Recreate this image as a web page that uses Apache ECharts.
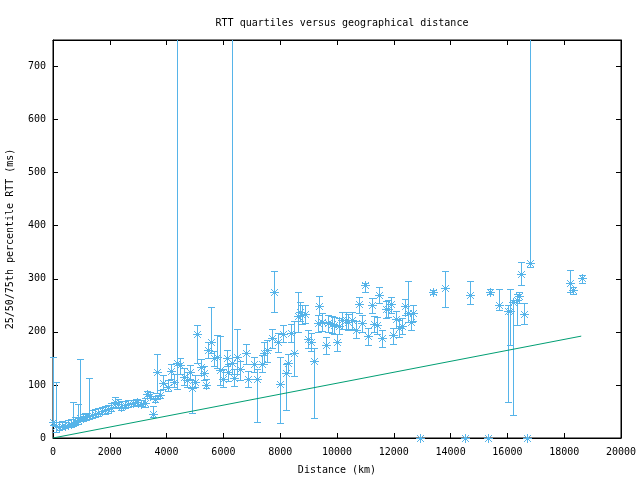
<!DOCTYPE html>
<html>
<head>
<meta charset="utf-8">
<script src="https://cdn.jsdelivr.net/npm/echarts@6/dist/echarts.min.js"></script>
<style>html,body{margin:0;padding:0;background:#fff}#c{width:640px;height:480px}</style>
</head>
<body>
<div id="c"></div>
<script>
const titleText = 'RTT quartiles versus geographical distance';
const xName = 'Distance (km)';
const yName = '25/50/75th percentile RTT (ms)';

const distance = [0,100,200,300,420,520,620,700,780,890,950,1050,1130,1280,1380,1480,1600,1720,1830,1950,2050,2183,2280,2400,2535,2650,2817,2950,3100,3240,3300,3400,3510,3590,3673,3768,3885,4060,4155,4272,4378,4472,4613,4707,4824,4883,5000,5081,5211,5328,5387,5469,5563,5680,5763,5880,5997,6115,6174,6292,6384,6490,6585,6785,6877,7090,7195,7348,7441,7535,7700,7782,7910,8005,8087,8193,8286,8380,8480,8615,8697,8756,8873,8967,9084,9201,9342,9377,9482,9602,9694,9813,9905,10011,10081,10187,10306,10399,10517,10658,10775,10891,10986,11103,11220,11314,11397,11479,11596,11714,11784,11901,11983,12077,12183,12278,12394,12489,12606,12687,12920,13392,13803,14500,14683,15300,15387,15704,16033,16092,16208,16326,16420,16479,16596,16700,16796,18204,18322,18616];
const p25 = [24,12,15,17,18,20,20,22,24,27,32,32,34,36,38,40,42,45,46,48,50,58,56,52,56,58,60,62,60,58,76,75,40,68,84,76,92,88,112,96,92,120,100,96,112,48,96,141,118,110,94,150,160,136,132,100,96,136,108,120,98,120,110,140,96,124,31,124,140,144,170,237,162,28,180,53,122,180,116,200,220,214,216,170,164,37,200,232,202,158,200,198,196,164,196,206,206,204,206,188,236,200,276,176,236,200,196,254,172,226,228,236,178,208,190,196,232,218,204,220,0,272,246,0,252,0,271,241,68,175,43,213,255,288,215,0,323,275,272,292];
const p50 = [30,22,20,22,22,24,26,28,30,33,38,38,40,42,44,46,48,50,53,54,56,68,64,58,62,64,66,68,64,66,83,80,46,73,125,81,103,97,126,106,141,138,115,109,125,95,106,196,134,122,100,166,180,150,152,128,112,150,124,141,114,152,130,160,111,139,111,139,161,165,188,275,180,101,196,122,141,197,161,230,238,232,233,187,181,145,217,249,219,175,216,215,213,180,211,222,222,219,222,204,252,217,288,192,251,215,213,269,188,243,244,252,194,225,207,211,249,235,219,236,0,275,282,0,269,0,275,251,239,239,257,260,268,309,234,0,329,293,279,301];
const p75 = [152,106,30,32,30,34,36,68,40,64,148,46,48,114,52,54,56,58,60,62,66,78,74,70,70,72,72,74,72,76,88,86,60,80,158,90,118,110,140,120,900,150,132,124,138,110,118,212,148,136,112,180,247,164,194,192,130,166,140,900,130,205,146,178,126,152,130,156,180,184,206,315,198,153,212,140,158,214,220,276,256,250,250,204,198,170,232,268,236,190,232,230,228,196,226,238,238,234,238,220,266,232,293,208,264,230,228,284,204,258,260,266,208,240,222,226,262,295,234,250,0,278,315,0,295,0,281,280,251,280,260,271,275,332,254,0,900,317,284,307];

const lineDistance = [0, 18600];
const lineRtt = [0, 192];

const xTicks = {min: 0, max: 20000, interval: 2000};
const yTicks = {min: 0, max: 750, interval: 100};

const BLUE = '#56b4e9';
const GREEN = '#009e73';
const FONT = 'DejaVu Sans Mono';

const errData = distance.map((d, i) => [d, p25[i], p50[i], p75[i]]);
const lineData = lineDistance.map((d, i) => [d, lineRtt[i]]);

const chart = echarts.init(document.getElementById('c'), null, {renderer: 'canvas'});

function px(x, y, w, h) {
  return {type: 'rect', shape: {x: x, y: y, width: w, height: h}, style: {fill: BLUE, stroke: null}};
}

function renderErr(params, api) {
  const x = api.value(0), lo = api.value(1), med = api.value(2), hi = api.value(3);
  const pLo = api.coord([x, lo]);
  const pHi = api.coord([x, hi]);
  const pMed = api.coord([x, med]);
  const top = Math.round(params.coordSys.y);
  const cx = Math.round(pLo[0]);
  const children = [];
  if (hi > lo) {
    const yLo = Math.round(pLo[1]);
    const yHiRaw = pHi[1];
    const yHi = Math.round(Math.max(yHiRaw, top));
    children.push(px(cx, yHi, 1, yLo - yHi + 1));
    children.push(px(cx - 3, yLo, 7, 1));
    if (yHiRaw >= top) children.push(px(cx - 3, yHi, 7, 1));
  }
  const my = Math.round(pMed[1]);
  children.push(px(cx - 4, my, 9, 1));
  children.push(px(cx, my - 4, 1, 9));
  for (let k = 1; k <= 3; k++) {
    children.push(px(cx - k, my - k, 1, 1));
    children.push(px(cx + k, my - k, 1, 1));
    children.push(px(cx - k, my + k, 1, 1));
    children.push(px(cx + k, my + k, 1, 1));
  }
  return {type: 'group', children: children};
}

const axisCommon = {
  axisLine: {show: true, onZero: false, lineStyle: {color: '#000', width: 1}},
  axisTick: {show: true, inside: true, length: 5, lineStyle: {color: '#000'}},
  splitLine: {show: false}
};
const plainFmt = v => String(v);

chart.setOption({
  animation: false,
  backgroundColor: '#fff',
  title: {
    text: titleText, left: 337, top: 13, textAlign: 'center',
    textStyle: {fontFamily: FONT, fontSize: 10, fontWeight: 'normal', color: '#000'}
  },
  grid: {left: 53, right: 19, top: 40, bottom: 42, show: true, borderColor: '#000', borderWidth: 1,
         containLabel: false, outerBoundsMode: 'none'},
  xAxis: [
    Object.assign({
      type: 'value', position: 'bottom', min: xTicks.min, max: xTicks.max, interval: xTicks.interval,
      name: xName, nameLocation: 'middle', nameGap: 27,
      nameTextStyle: {fontFamily: FONT, fontSize: 10, color: '#000'},
      axisLabel: {fontFamily: FONT, fontSize: 10, color: '#000', margin: 9, formatter: plainFmt}
    }, axisCommon),
    Object.assign({
      type: 'value', position: 'top', min: xTicks.min, max: xTicks.max, interval: xTicks.interval,
      axisLabel: {show: false}
    }, axisCommon)
  ],
  yAxis: [
    Object.assign({
      type: 'value', position: 'left', min: yTicks.min, max: yTicks.max, interval: yTicks.interval,
      name: yName, nameLocation: 'middle', nameGap: 38, nameRotate: 90,
      nameTextStyle: {fontFamily: FONT, fontSize: 10, color: '#000'},
      axisLabel: {fontFamily: FONT, fontSize: 10, color: '#000', margin: 7, showMaxLabel: false, formatter: plainFmt}
    }, axisCommon),
    Object.assign({
      type: 'value', position: 'right', min: yTicks.min, max: yTicks.max, interval: yTicks.interval,
      axisLabel: {show: false}
    }, axisCommon)
  ],
  series: [
    {
      type: 'custom', xAxisIndex: 0, yAxisIndex: 0,
      renderItem: renderErr,
      encode: {x: 0, y: [1, 2, 3]},
      data: errData, clip: false, z: 2
    },
    {
      type: 'line', xAxisIndex: 0, yAxisIndex: 0,
      data: lineData, showSymbol: false, symbol: 'none',
      lineStyle: {color: GREEN, width: 1}, z: 3
    }
  ]
});
</script>
</body>
</html>
